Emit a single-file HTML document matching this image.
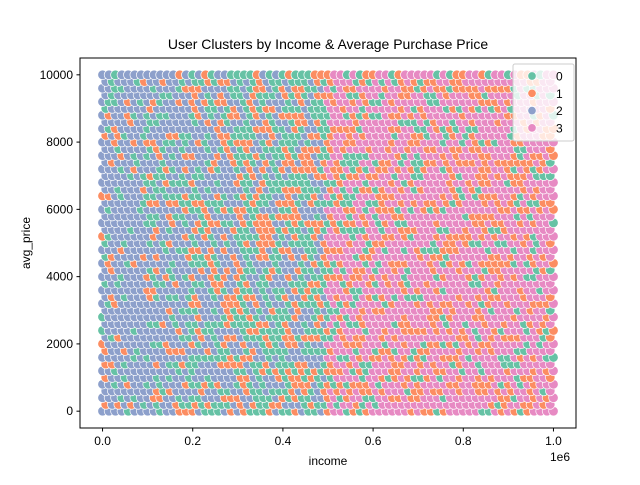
<!DOCTYPE html>
<html><head><meta charset="utf-8"><style>
body{margin:0;background:#fff;}
svg text{font-family:"Liberation Sans","Noto Sans CJK SC",sans-serif;fill:#000;}
</style></head><body>
<svg id="chart" width="640" height="480">
<rect width="640" height="480" fill="#fff"/>
<text x="328" y="49" text-anchor="middle" font-size="14">User Clusters by Income &amp; Average Purchase Price</text>
<defs><clipPath id="clip"><rect x="80" y="58" width="496" height="370"/></clipPath></defs>
<g id="points" clip-path="url(#clip)"></g>
<rect x="80" y="58" width="496" height="370" fill="none" stroke="#000" stroke-width="1"/>
<g id="axes"></g>
<text x="328" y="465" text-anchor="middle" font-size="12">income</text>
<text x="570" y="461" text-anchor="end" font-size="12">1e6</text>
<text transform="translate(30,243) rotate(-90)" text-anchor="middle" font-size="12">avg_price</text>
<g id="legend">
<rect x="513" y="64" width="61" height="77" rx="2" fill="#fff" fill-opacity="0.8" stroke="#ccc"/>
</g>
</svg>
<script>
const clusters=["0","1","2","3"];
const colors=["#66c2a5","#fc8d62","#8da0cb","#e78ac3"];
const xTicks=[0,0.2,0.4,0.6,0.8,1.0];
const xTickLabels=["0.0","0.2","0.4","0.6","0.8","1.0"];
const yTicks=[0,2000,4000,6000,8000,10000];
// label mix per income decile (read visually)
const decilePatterns=["22202122","2202120","2021021","0210201","1020120","3130103","3313130","3133103","3313310","3133130"];
const xMin=-50000,xMax=1050000,yMin=-500,yMax=10500;
function sx(v){return 80+(v-xMin)/(xMax-xMin)*496;}
function sy(v){return 428-(v-yMin)/(yMax-yMin)*370;}
function mix(i,j){let h=(i*374761393+j*668265263)>>>0;h=((h^(h>>>13))*1274126177)>>>0;return (h^(h>>>16))>>>0;}
const NS="http://www.w3.org/2000/svg";
const pg=document.getElementById('points');
for(let j=0;j<=50;j++){
  const yv=j*200;
  for(let i=0;i<=70;i++){
    let xv=i*1e6/70+(j%2?1e6/140:0);
    if(xv>1e6)continue;
    const d=Math.min(9,Math.floor(xv/1e5));
    const pat=decilePatterns[d];
    const lab=+pat[mix(i,j)%pat.length];
    const c=document.createElementNS(NS,'circle');
    c.setAttribute('cx',sx(xv));c.setAttribute('cy',sy(yv));c.setAttribute('r',4.8);
    c.setAttribute('fill',colors[lab]);c.setAttribute('stroke','#fff');c.setAttribute('stroke-width','0.7');
    
    
    pg.appendChild(c);
  }
}
const ax=document.getElementById('axes');
xTicks.forEach((t,k)=>{
  const x=sx(t*1e6);
  const l=document.createElementNS(NS,'line');
  l.setAttribute('x1',x);l.setAttribute('x2',x);l.setAttribute('y1',428);l.setAttribute('y2',431.5);l.setAttribute('stroke','#000');
  
  
  ax.appendChild(l);
  const tx=document.createElementNS(NS,'text');
  tx.setAttribute('x',x);tx.setAttribute('y',445);tx.setAttribute('text-anchor','middle');tx.setAttribute('font-size','12');
  tx.textContent=xTickLabels[k];
  
  
  ax.appendChild(tx);
});
yTicks.forEach(t=>{
  const y=sy(t);
  const l=document.createElementNS(NS,'line');
  l.setAttribute('x1',76.5);l.setAttribute('x2',80);l.setAttribute('y1',y);l.setAttribute('y2',y);l.setAttribute('stroke','#000');
  
  
  ax.appendChild(l);
  const tx=document.createElementNS(NS,'text');
  tx.setAttribute('x',73);tx.setAttribute('y',y+4);tx.setAttribute('text-anchor','end');tx.setAttribute('font-size','12');
  tx.textContent=t;
  
  
  ax.appendChild(tx);
});
const lg=document.getElementById('legend');
clusters.forEach((c,k)=>{
  const y=76+k*17.3;
  const m=document.createElementNS(NS,'circle');
  m.setAttribute('cx',532);m.setAttribute('cy',y);m.setAttribute('r',4.2);m.setAttribute('fill',colors[k]);m.setAttribute('stroke','#fff');m.setAttribute('stroke-width','0.7');
  
  
  lg.appendChild(m);
  const t=document.createElementNS(NS,'text');
  t.setAttribute('x',556);t.setAttribute('y',y+4.5);t.setAttribute('font-size','12');t.textContent=c;
  
  
  lg.appendChild(t);
});
</script>
</body></html>
